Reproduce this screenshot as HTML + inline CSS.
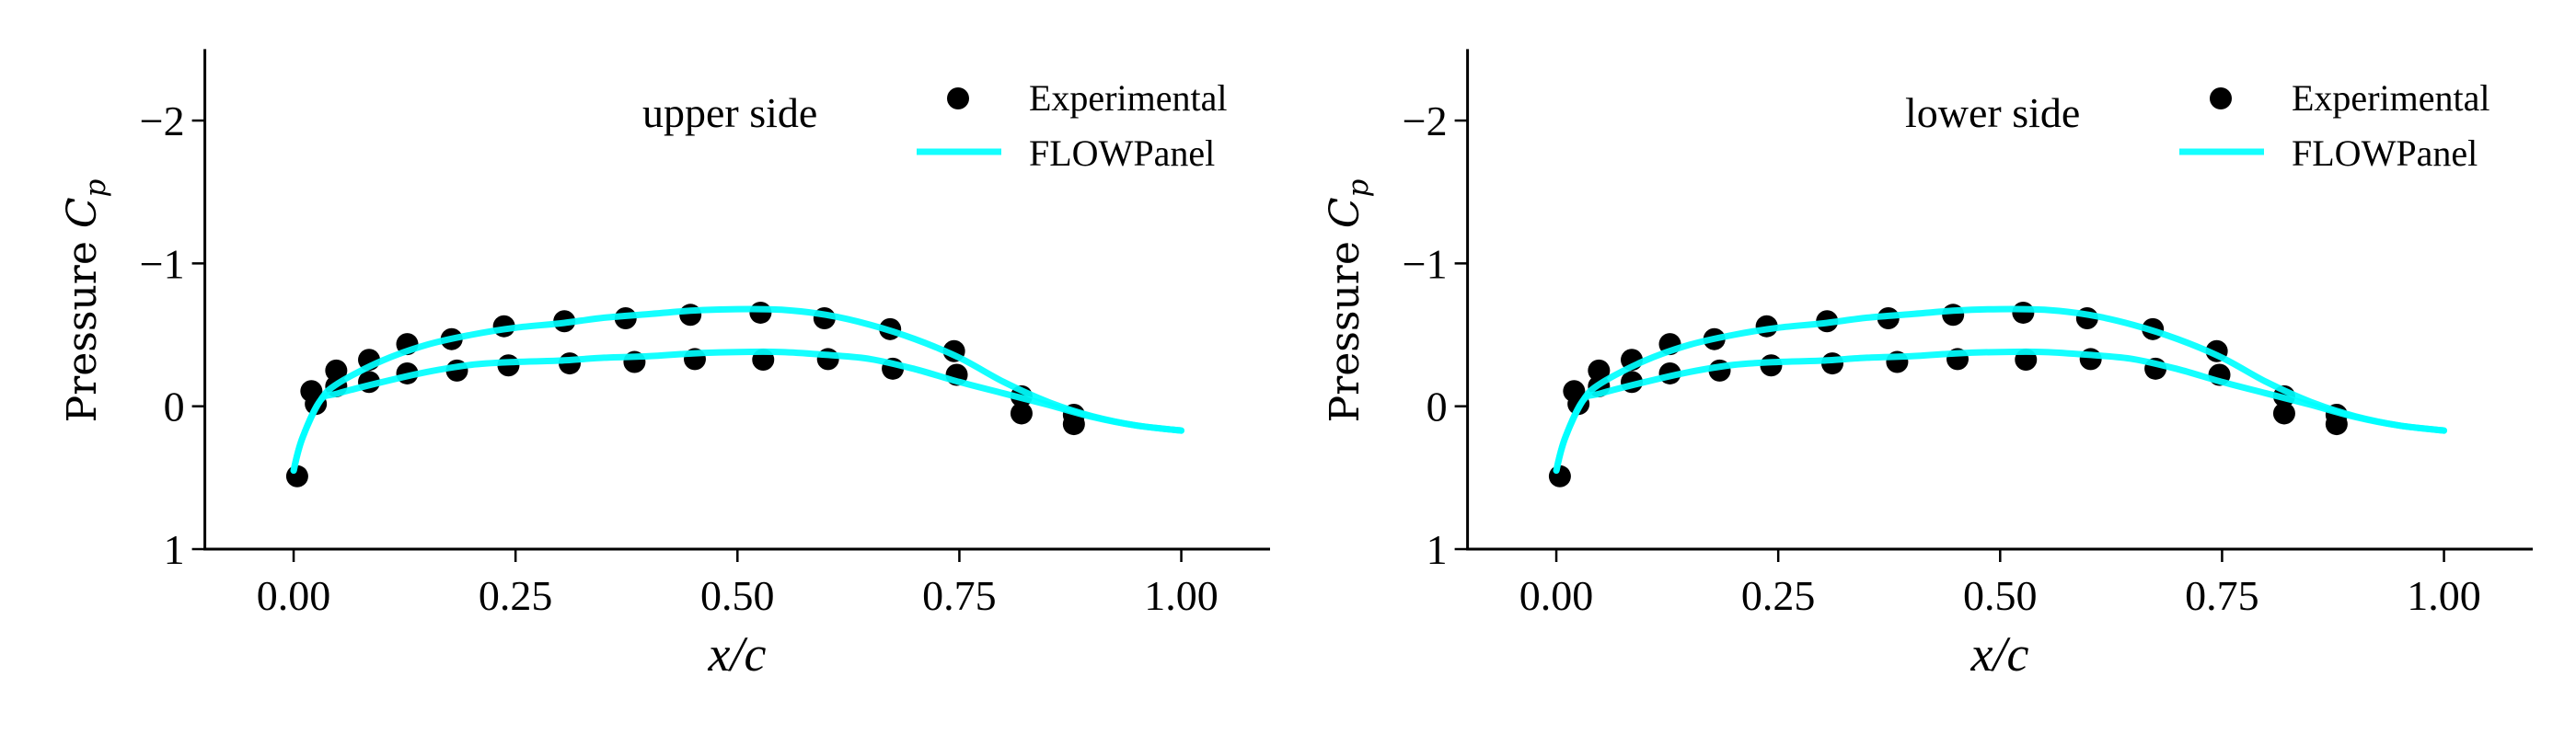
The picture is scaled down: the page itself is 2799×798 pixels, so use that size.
<!DOCTYPE html>
<html><head><meta charset="utf-8">
<style>
html,body{margin:0;padding:0;background:#fff;}
svg{display:block;}
text{font-family:"Liberation Serif","DejaVu Serif",serif;fill:#000;}
</style></head>
<body>
<svg id="chart" width="2799" height="798" viewBox="0 0 2799 798" xmlns="http://www.w3.org/2000/svg"></svg>
<script>
// Data
const expX = [0.004,0.020,0.025,0.048,0.048,0.085,0.085,0.128,0.128,0.178,0.184,0.237,0.242,0.305,0.311,0.374,0.384,0.447,0.452,0.526,0.529,0.598,0.602,0.672,0.675,0.744,0.747,0.820,0.820,0.879,0.879];
const expCp = [0.49,-0.106,-0.016,-0.25,-0.14,-0.325,-0.17,-0.435,-0.23,-0.47,-0.25,-0.56,-0.286,-0.595,-0.30,-0.616,-0.31,-0.64,-0.33,-0.655,-0.326,-0.616,-0.33,-0.54,-0.263,-0.386,-0.22,-0.07,0.05,0.06,0.125];
const lineX = [0,0.01,0.03,0.05,0.1,0.15,0.2,0.25,0.3,0.35,0.4,0.45,0.5,0.55,0.6,0.65,0.7,0.75,0.8,0.85,0.9,0.95,1.0];
const upperCp = [0.45,0.22,-0.04,-0.16,-0.32,-0.43,-0.50,-0.55,-0.58,-0.62,-0.645,-0.67,-0.68,-0.675,-0.64,-0.57,-0.47,-0.34,-0.17,-0.03,0.07,0.135,0.17];
const lowerCp = [0.45,0.22,-0.04,-0.09,-0.17,-0.24,-0.29,-0.31,-0.32,-0.34,-0.35,-0.37,-0.38,-0.38,-0.36,-0.33,-0.26,-0.17,-0.09,-0.01,0.075,0.135,0.17];
const xTicks = [0,0.25,0.5,0.75,1.0];
const xTickLabels = ["0.00","0.25","0.50","0.75","1.00"];
const yTicks = [-2,-1,0,1];
const yTickLabels = ["\u22122","\u22121","0","1"];
const panelTitles = ["upper side","lower side"];

const NS = "http://www.w3.org/2000/svg";
const svg = document.getElementById('chart');
function mk(tag, attrs, parent){
  const e = document.createElementNS(NS, tag);
  for (const k in attrs) e.setAttribute(k, attrs[k]);
  (parent||svg).appendChild(e);
  return e;
}
function smoothPath(pts){
  let d = 'M' + pts[0][0].toFixed(1) + ',' + pts[0][1].toFixed(1);
  for (let i = 0; i < pts.length - 1; i++) {
    const p0 = pts[Math.max(0, i-1)], p1 = pts[i], p2 = pts[i+1], p3 = pts[Math.min(pts.length-1, i+2)];
    const t = (i === 0) ? 0 : 1/6;
    const c1x = p1[0] + (p2[0]-p0[0])*t, c1y = p1[1] + (p2[1]-p0[1])*t;
    const c2x = p2[0] - (p3[0]-p1[0])/6, c2y = p2[1] - (p3[1]-p1[1])/6;
    d += ` C${c1x.toFixed(1)},${c1y.toFixed(1)} ${c2x.toFixed(1)},${c2y.toFixed(1)} ${p2[0].toFixed(1)},${p2[1].toFixed(1)}`;
  }
  return d;
}
const X0 = 222.6, X1 = 1380, Y0 = 53.4, Y1 = 597;
const xmin = -0.1, xmax = 1.1, ymin = 1, ymax = -2.5;

panelTitles.forEach((title, p) => {
  const off = p * 1372;
  const g = mk('g', {transform: `translate(${off},0)`});
  
  
  const sx = v => X0 + (v - xmin) / (xmax - xmin) * (X1 - X0);
  const sy = v => Y1 + (v - ymin) / (ymax - ymin) * (Y0 - Y1);

  const ya = mk('line', {x1:X0, y1:Y0, x2:X0, y2:Y1, stroke:'#000', 'stroke-width':3}, g);
  
  
  const xa = mk('line', {x1:X0-1.5, y1:Y1, x2:X1, y2:Y1, stroke:'#000', 'stroke-width':3}, g);
  
  

  xTicks.forEach((t, i) => {
    const x = sx(t);
    mk('line', {x1:x, y1:Y1, x2:x, y2:Y1+14, stroke:'#000', 'stroke-width':2.5}, g);
    const tl = mk('text', {x:x, y:663, 'font-size':46, 'text-anchor':'middle'}, g);
    tl.textContent = xTickLabels[i];
    
    
  });
  yTicks.forEach((t, i) => {
    const y = sy(t);
    mk('line', {x1:X0-14, y1:y, x2:X0, y2:y, stroke:'#000', 'stroke-width':2.5}, g);
    const tl = mk('text', {x:X0-22, y:y+16, 'font-size':46, 'text-anchor':'end'}, g);
    tl.textContent = yTickLabels[i];
    
    
  });

  const xl = mk('text', {x:801, y:729, 'font-size':54, 'text-anchor':'middle', 'font-style':'italic'}, g);
  xl.textContent = 'x/c';
  
  
  const yl = mk('text', {x:0, y:0, 'font-size':44, 'text-anchor':'middle', transform:'translate(104,327) rotate(-90)'}, g);
  yl.style.fontFamily = '"DejaVu Serif", serif';
  yl.innerHTML = 'Pressure <tspan font-style="italic">C<tspan font-size="31" dy="10">p</tspan></tspan>';
  
  

  expX.forEach((xv, i) => {
    const c = mk('circle', {cx:sx(xv), cy:sy(expCp[i]), r:12, fill:'#000'}, g);
    
    
  });
  [upperCp, lowerCp].forEach((arr, k) => {
    const pts = lineX.map((xv, i) => [sx(xv), sy(arr[i])]);
    const pth = mk('path', {d:smoothPath(pts), fill:'none', stroke:'#00ffff', 'stroke-opacity':0.92, 'stroke-width':7, 'stroke-linejoin':'round', 'stroke-linecap':'round'}, g);
    
    
  });

  const an = mk('text', {x:698, y:138, 'font-size':46}, g);
  an.textContent = title;
  
  

  const lg = mk('g', {}, g);
  
  
  mk('circle', {cx:1041, cy:107, r:12, fill:'#000'}, lg);
  const t1 = mk('text', {x:1118, y:120, 'font-size':40}, lg);
  t1.textContent = 'Experimental';
  
  
  mk('line', {x1:996, y1:165, x2:1088, y2:165, stroke:'#00ffff', 'stroke-opacity':0.92, 'stroke-width':7}, lg);
  const t2 = mk('text', {x:1118, y:180, 'font-size':40}, lg);
  t2.textContent = 'FLOWPanel';
  
  
});
</script>
</body></html>
